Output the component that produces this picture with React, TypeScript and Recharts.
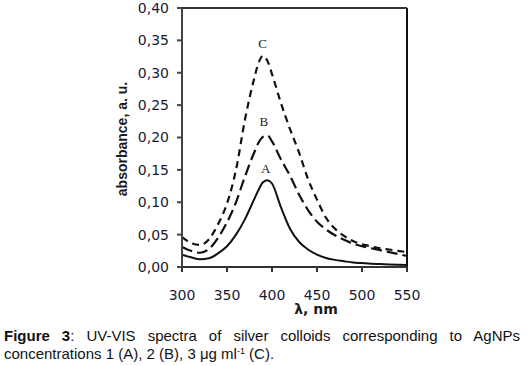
import { LineChart, Line, XAxis, YAxis, ReferenceLine, ReferenceDot } from "recharts";

const wavelengths = [300, 310, 320, 330, 340, 350, 360, 370, 380, 385, 390, 395, 400, 410, 420, 430, 440, 450, 460, 470, 480, 490, 500, 510, 520, 530, 540, 550];
const seriesA = [0.019, 0.015, 0.012, 0.0135, 0.021, 0.032, 0.05, 0.074, 0.104, 0.119, 0.131, 0.134, 0.129, 0.092, 0.059, 0.039, 0.027, 0.019, 0.014, 0.011, 0.009, 0.007, 0.006, 0.005, 0.0045, 0.004, 0.0035, 0.003];
const seriesB = [0.031, 0.025, 0.022, 0.028, 0.045, 0.069, 0.1, 0.14, 0.176, 0.192, 0.201, 0.203, 0.194, 0.166, 0.141, 0.112, 0.088, 0.07, 0.058, 0.049, 0.042, 0.036, 0.032, 0.029, 0.026, 0.023, 0.02, 0.017];
const seriesC = [0.046, 0.037, 0.034, 0.043, 0.066, 0.098, 0.15, 0.228, 0.29, 0.315, 0.326, 0.318, 0.298, 0.253, 0.213, 0.177, 0.136, 0.104, 0.076, 0.059, 0.048, 0.04, 0.035, 0.032, 0.029, 0.027, 0.025, 0.023];

const xTicks = [300, 350, 400, 450, 500, 550];
const yTicks = [0, 0.05, 0.1, 0.15, 0.2, 0.25, 0.3, 0.35, 0.4];

// curve letters: name, wavelength, absorbance
const curveLabels: [string, number, number][] = [
  ["C", 389.6, 0.345],
  ["B", 391, 0.225],
  ["A", 393, 0.153],
];

const data = wavelengths.map((w, i) => ({ w, A: seriesA[i], B: seriesB[i], C: seriesC[i] }));

const tickStyle = { fill: "#1a1a33", fontSize: 14, fontFamily: "DejaVu Sans" };

const captionFont = {
  fontFamily: "Liberation Sans",
  fontSize: 15,
  color: "#111",
  whiteSpace: "nowrap" as const,
};

export default function App() {
  return (
    <div style={{ position: "absolute", left: 0, top: 0, width: 532, height: 366, background: "#fff" }}>
      <LineChart width={532} height={310} data={data} margin={{ top: 8, right: 125, bottom: 13, left: 122 }}>
        <XAxis
          dataKey="w"
          type="number"
          domain={[300, 550]}
          ticks={xTicks}
          tick={tickStyle}
          tickSize={5}
          tickMargin={18}
          height={30}
          stroke="#333"
          strokeWidth={2}
        />
        <YAxis
          type="number"
          domain={[0, 0.4]}
          ticks={yTicks}
          tick={tickStyle}
          tickFormatter={(v: number) => v.toFixed(2).replace(".", ",")}
          tickSize={5}
          tickMargin={8}
          width={60}
          stroke="#444"
          strokeWidth={2}
        />
        <ReferenceLine y={0.4} stroke="#333" strokeWidth={2} />
        <ReferenceLine x={550} stroke="#111" strokeWidth={2} />
        <Line type="monotone" dataKey="A" stroke="#111" strokeWidth={2} dot={false} isAnimationActive={false} />
        <Line type="monotone" dataKey="B" stroke="#111" strokeWidth={2.2} strokeDasharray="11 5" dot={false} isAnimationActive={false} />
        <Line type="monotone" dataKey="C" stroke="#111" strokeWidth={2.2} strokeDasharray="7 5" dot={false} isAnimationActive={false} />
        {curveLabels.map(([name, x, y]) => (
          <ReferenceDot
            key={name}
            x={x}
            y={y}
            r={0}
            fill="none"
            stroke="none"
            label={{ value: name, position: "center", fill: "#222", fontSize: 13, fontFamily: "Liberation Serif" }}
          />
        ))}
      </LineChart>
      <div
        style={{
          position: "absolute",
          left: 122,
          top: 139,
          transform: "translate(-50%, -50%) rotate(-90deg)",
          whiteSpace: "nowrap",
          fontFamily: "Liberation Sans",
          fontWeight: "bold",
          fontSize: 14,
          color: "#1a1a1a",
        }}
      >
        absorbance, a. u.
      </div>
      <div
        style={{
          position: "absolute",
          left: 316,
          top: 309,
          transform: "translate(-50%, -50%)",
          whiteSpace: "nowrap",
          fontFamily: "DejaVu Sans",
          fontWeight: "bold",
          fontSize: 14,
          color: "#1a1a1a",
        }}
      >
        λ, nm
      </div>
      <div
        style={{
          ...captionFont,
          position: "absolute",
          left: 4,
          top: 327,
          width: 516,
          lineHeight: "18px",
          textAlign: "justify",
          textAlignLast: "justify",
        }}
      >
        <b>Figure 3</b>: UV-VIS spectra of silver colloids corresponding to AgNPs
      </div>
      <div style={{ ...captionFont, position: "absolute", left: 4, top: 345, lineHeight: "18px" }}>
        concentrations 1 (A), 2 (B), 3 μg ml
        <span style={{ fontSize: 9, verticalAlign: "5px", lineHeight: 0 }}>-1</span> (C).
      </div>
    </div>
  );
}
